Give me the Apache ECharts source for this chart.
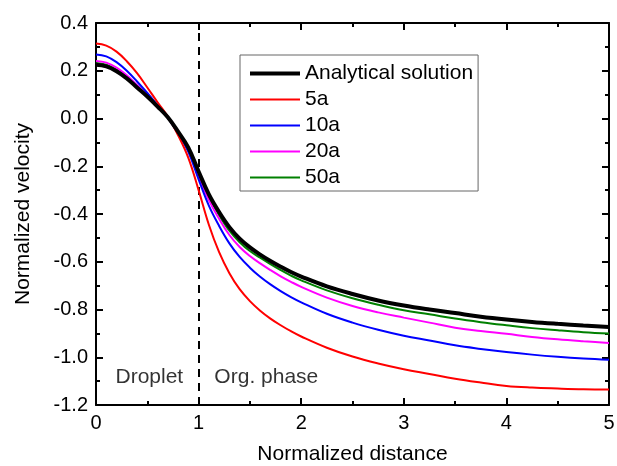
<!DOCTYPE html>
<html>
<head>
<meta charset="utf-8">
<script src="https://cdn.jsdelivr.net/npm/echarts@6/dist/echarts.min.js"></script>
<style>
  html, body { margin: 0; padding: 0; background: #fff; }
  #chart { width: 617px; height: 466px; }
</style>
</head>
<body>
<div id="chart"></div>
<script>
// normalized distance (x)
const distance = [0, 0.1, 0.2, 0.3, 0.4, 0.5, 0.6, 0.7, 0.8, 0.9, 1.0, 1.1, 1.2, 1.3, 1.4, 1.5, 1.6,
  1.7, 1.8, 1.9, 2.0, 2.25, 2.5, 2.75, 3.0, 3.25, 3.5, 3.75, 4.0, 4.25, 4.5, 4.75, 5.0];

// normalized velocity for each case
const analytical = [0.225, 0.218, 0.198, 0.168, 0.13, 0.092, 0.05, 0.005, -0.055, -0.122, -0.222, -0.318,
  -0.392, -0.455, -0.503, -0.54, -0.57, -0.597, -0.621, -0.643, -0.662, -0.703, -0.735, -0.762,
  -0.783, -0.8, -0.815, -0.83, -0.842, -0.852, -0.86, -0.867, -0.873];
const v5a = [0.314, 0.305, 0.28, 0.24, 0.19, 0.13, 0.068, 0.008, -0.07, -0.165, -0.3, -0.445,
  -0.56, -0.648, -0.715, -0.765, -0.805, -0.838, -0.866, -0.891, -0.913, -0.96, -0.997, -1.026,
  -1.05, -1.07, -1.09, -1.106, -1.12, -1.127, -1.131, -1.134, -1.135];
const v10a = [0.268, 0.26, 0.236, 0.2, 0.155, 0.107, 0.056, 0.004, -0.063, -0.14, -0.255, -0.365,
  -0.45, -0.523, -0.58, -0.625, -0.663, -0.695, -0.723, -0.748, -0.77, -0.818, -0.855, -0.885,
  -0.91, -0.93, -0.95, -0.965, -0.978, -0.989, -0.998, -1.005, -1.01];
const v20a = [0.241, 0.234, 0.213, 0.181, 0.14, 0.098, 0.052, 0.003, -0.06, -0.133, -0.24, -0.342,
  -0.42, -0.488, -0.538, -0.576, -0.607, -0.635, -0.661, -0.684, -0.705, -0.75, -0.785, -0.812,
  -0.834, -0.855, -0.876, -0.89, -0.902, -0.915, -0.925, -0.933, -0.94];
const v50a = [0.232, 0.225, 0.205, 0.175, 0.136, 0.095, 0.05, 0.003, -0.058, -0.128, -0.232, -0.328,
  -0.405, -0.47, -0.518, -0.555, -0.583, -0.61, -0.635, -0.658, -0.678, -0.72, -0.753, -0.78,
  -0.803, -0.82, -0.838, -0.853, -0.866, -0.878, -0.887, -0.895, -0.901];

const seriesNames = ['Analytical solution', '5a', '10a', '20a', '50a'];
const seriesColors = ['#000000', '#ff0000', '#0000ff', '#ff00ff', '#008000'];
const seriesWidths = [4, 2, 2, 2, 2];
const seriesValues = [analytical, v5a, v10a, v20a, v50a];

// region labels
const regionNames = ['Droplet', 'Org. phase'];
const regionPos = [[0.52, -1.085], [1.66, -1.085]];
const interfaceX = 1;

const font = 'Arial, "Liberation Sans", sans-serif';

const chart = echarts.init(document.getElementById('chart'));

const lineSeries = seriesNames.map((name, i) => ({
  name: name,
  type: 'line',
  smooth: 0.4,
  symbol: 'none',
  showSymbol: false,
  z: 10 - i,
  data: distance.map((x, j) => [x, seriesValues[i][j]]),
  lineStyle: { color: seriesColors[i], width: seriesWidths[i] },
  itemStyle: { color: seriesColors[i] }
}));
// black line on top
lineSeries[0].z = 11;
lineSeries[0].markLine = {
  silent: true,
  symbol: 'none',
  label: { show: false },
  lineStyle: { color: '#000', width: 2, type: [8, 6] },
  data: [{ xAxis: interfaceX }]
};

const axisCommon = {
  axisLine: { show: true, onZero: false, lineStyle: { color: '#000', width: 2 } },
  axisTick: { show: true, inside: true, length: 7, lineStyle: { color: '#000', width: 2 } },
  minorTick: { show: true, splitNumber: 2, length: 4, lineStyle: { color: '#000', width: 2 } },
  splitLine: { show: false },
  nameTextStyle: { fontFamily: font, fontSize: 21, color: '#000' }
};

chart.setOption({
  animation: false,
  backgroundColor: '#fff',
  grid: { left: 96, right: 8, top: 23, bottom: 61, outerBoundsMode: 'none' },
  legend: {
    data: seriesNames.map((n, i) => ({
      name: n,
      lineStyle: { width: seriesWidths[i], color: seriesColors[i] }
    })),
    orient: 'vertical',
    left: 240,
    top: 55,
    backgroundColor: '#fff',
    borderColor: '#666',
    borderWidth: 1,
    borderRadius: 0,
    padding: [8, 5, 3, 8],
    itemWidth: 50,
    itemHeight: 14,
    itemGap: 5,
    itemStyle: { opacity: 0 },
    textStyle: { fontFamily: font, fontSize: 21, color: '#000', lineHeight: 21 }
  },
  xAxis: [
    Object.assign({}, axisCommon, {
      type: 'value', min: 0, max: 5, interval: 1,
      name: 'Normalized distance', nameLocation: 'middle', nameGap: 39,
      axisLabel: { fontFamily: font, fontSize: 20, color: '#000', margin: 8 }
    }),
    Object.assign({}, axisCommon, {
      type: 'value', min: 0, max: 5, interval: 1, position: 'top',
      axisLabel: { show: false }
    })
  ],
  yAxis: [
    Object.assign({}, axisCommon, {
      type: 'value', min: -1.2, max: 0.4, interval: 0.2,
      name: 'Normalized velocity', nameLocation: 'middle', nameGap: 62,
      axisLabel: {
        fontFamily: font, fontSize: 20, color: '#000', margin: 8,
        formatter: v => v.toFixed(1)
      }
    }),
    Object.assign({}, axisCommon, {
      type: 'value', min: -1.2, max: 0.4, interval: 0.2, position: 'right',
      axisLabel: { show: false }
    })
  ],
  series: lineSeries.concat([{
    name: 'regions',
    type: 'scatter',
    symbolSize: 0,
    silent: true,
    data: regionPos.map((p, i) => ({ value: p, name: regionNames[i] })),
    label: {
      show: true,
      position: 'inside',
      formatter: p => p.name,
      fontFamily: font,
      fontSize: 21,
      color: '#000'
    }
  }])
});
</script>
</body>
</html>
